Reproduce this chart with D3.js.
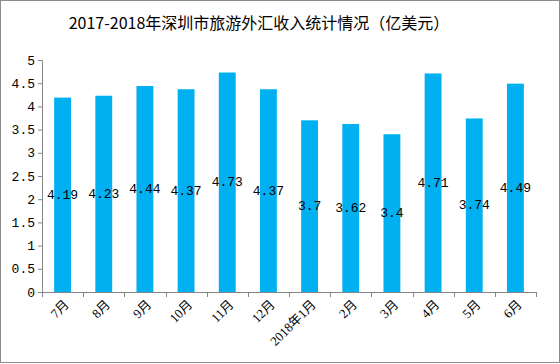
<!DOCTYPE html>
<html>
<head>
<meta charset="utf-8">
<script src="https://cdn.jsdelivr.net/npm/d3@7"></script>
<style>
  body { margin: 0; background: #fff; }
  svg { display: block; }
</style>
</head>
<body>
<div id="chart"></div>
<script>
// data
const months = ['7月','8月','9月','10月','11月','12月','2018年1月','2月','3月','4月','5月','6月']
const income = [4.19, 4.23, 4.44, 4.37, 4.73, 4.37, 3.7, 3.62, 3.4, 4.71, 3.74, 4.49]
const yTicks = [0, 0.5, 1, 1.5, 2, 2.5, 3, 3.5, 4, 4.5, 5]

const width = 560, height = 364
const plotLeft = 42, plotRight = 536, plotTop = 60, plotBottom = 292
const axisColor = '#868686'
const cjk = '"Liberation Serif", "Noto Sans CJK SC", serif'

const svg = d3.select('#chart').append('svg')
    .attr('width', width)
    .attr('height', height)

// outer frame
svg.append('rect')
    .attr('x', 0.5).attr('y', 0.5)
    .attr('width', width - 1).attr('height', height - 2)
    .attr('fill', 'none')
    .attr('stroke', '#8c8c8c')

svg.append('text')
    .attr('x', 259).attr('y', 29)
    .attr('text-anchor', 'middle')
    .style('font-family', '"Noto Sans CJK SC", sans-serif')
    .style('font-size', '16px')
    .text('2017-2018年深圳市旅游外汇收入统计情况（亿美元）')

const x = d3.scaleBand()
    .domain(months)
    .range([plotLeft, plotRight])
    .paddingInner(0.59)
    .paddingOuter(0.295)

const y = d3.scaleLinear()
    .domain([0, 5])
    .range([plotBottom, plotTop])

// bars
svg.append('g').selectAll('rect')
    .data(income)
    .join('rect')
    .attr('x', (d, i) => x(months[i]))
    .attr('y', d => y(d))
    .attr('width', x.bandwidth())
    .attr('height', d => y(0) - y(d))
    .attr('fill', '#00B0F0')

// value labels, sat in the middle of each bar
svg.append('g').selectAll('text')
    .data(income)
    .join('text')
    .attr('x', (d, i) => x(months[i]) + x.bandwidth() / 2)
    .attr('y', d => y(d / 2) + 4)
    .attr('text-anchor', 'middle')
    .style('font-family', '"Liberation Mono", monospace')
    .style('font-size', '13px')
    .text(d => d)

// y axis
const yAxis = svg.append('g')
    .attr('transform', `translate(${plotLeft},0)`)
    .call(d3.axisLeft(y).tickValues(yTicks).tickSize(4).tickPadding(3).tickFormat(d3.format('')))
yAxis.select('.domain').attr('stroke', axisColor)
yAxis.selectAll('.tick line').attr('stroke', axisColor)
yAxis.selectAll('.tick text')
    .style('font-family', '"Liberation Mono", monospace')
    .style('font-size', '13px')
    .attr('fill', '#000')

// x axis: ticks between the bands
const xg = svg.append('g')
xg.append('line')
    .attr('x1', plotLeft).attr('x2', plotRight)
    .attr('y1', plotBottom + 0.5).attr('y2', plotBottom + 0.5)
    .attr('stroke', axisColor)
const step = x.step()
xg.selectAll('line.tk')
    .data(d3.range(months.length + 1))
    .join('line')
    .attr('class', 'tk')
    .attr('x1', i => Math.round(plotLeft + i * step) + 0.5)
    .attr('x2', i => Math.round(plotLeft + i * step) + 0.5)
    .attr('y1', plotBottom)
    .attr('y2', plotBottom + 5)
    .attr('stroke', axisColor)

xg.selectAll('text')
    .data(months)
    .join('text')
    .attr('transform', d => `translate(${x(d) + x.bandwidth() / 2 + 4},${plotBottom + 10}) rotate(-45)`)
    .attr('text-anchor', 'end')
    .attr('dy', '0.35em')
    .style('font-family', cjk)
    .style('font-size', '13px')
    .text(d => d)
</script>
</body>
</html>
